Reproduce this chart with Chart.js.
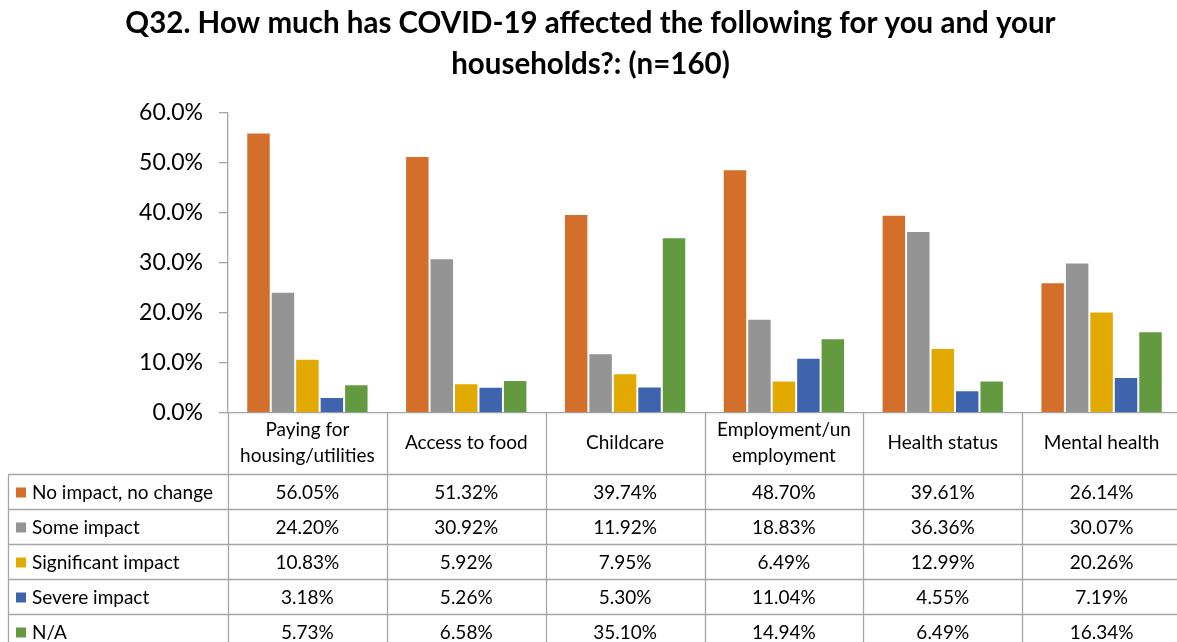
<!DOCTYPE html>
<html>
<head>
<meta charset="utf-8">
<script src="https://cdn.jsdelivr.net/npm/chart.js@4"></script>
<style>
  html, body { margin: 0; padding: 0; background: #fff; overflow: hidden; }
  #wrap { width: 1185px; height: 642px; }
</style>
</head>
<body>
<div id="wrap"><canvas id="covidChart"></canvas></div>
<script>
// =======================================================
// Données
// =======================================================

const categories = [
    ["Paying for", "housing/utilities"],
    ["Access to food"],
    ["Childcare"],
    ["Employment/un", "employment"],
    ["Health status"],
    ["Mental health"]
];

const seriesNames = ["No impact, no change", "Some impact", "Significant impact", "Severe impact", "N/A"];
const seriesColors = ["#D36E2B", "#949494", "#E2A900", "#3E64AE", "#639A3F"];

const noImpact    = [56.05, 51.32, 39.74, 48.70, 39.61, 26.14];
const someImpact  = [24.20, 30.92, 11.92, 18.83, 36.36, 30.07];
const significant = [10.83, 5.92, 7.95, 6.49, 12.99, 20.26];
const severe      = [3.18, 5.26, 5.30, 11.04, 4.55, 7.19];
const notApply    = [5.73, 6.58, 35.10, 14.94, 6.49, 16.34];

const seriesValues = [noImpact, someImpact, significant, severe, notApply];

const yTicks = [0, 10, 20, 30, 40, 50, 60];

const FONT = "Lato, 'Open Sans', sans-serif";


// =======================================================
// Tableau de données sous le graphique
// =======================================================

const dataTable = {
    id: "dataTable",
    afterDraw(chart) {
        const ctx = chart.ctx;
        const area = chart.chartArea;
        const x = chart.scales.x;
        const n = categories.length;
        const colW = (area.right - area.left) / n;
        const headerBottom = area.bottom + 61;
        const rowH = 35;
        const tableLeft = 8;
        const bottom = headerBottom + rowH * seriesNames.length;

        ctx.save();
        ctx.strokeStyle = "#a5a5a5";
        ctx.lineWidth = 1.3;

        // lignes verticales
        for (let i = 0; i <= n; i++) {
            const px = Math.round(area.left + i * colW) + 0.5;
            ctx.beginPath();
            ctx.moveTo(px, area.bottom);
            ctx.lineTo(px, bottom);
            ctx.stroke();
        }
        ctx.beginPath();
        ctx.moveTo(tableLeft + 0.5, headerBottom);
        ctx.lineTo(tableLeft + 0.5, bottom);
        ctx.stroke();

        // lignes horizontales
        for (let r = 0; r <= seriesNames.length; r++) {
            const py = Math.round(headerBottom + r * rowH) + 0.5;
            ctx.beginPath();
            ctx.moveTo(tableLeft, py);
            ctx.lineTo(area.right, py);
            ctx.stroke();
        }

        ctx.fillStyle = "#000";
        ctx.font = "19px " + FONT;
        ctx.textAlign = "center";
        ctx.textBaseline = "middle";

        // en-têtes
        categories.forEach((lines, i) => {
            const cx = x.getPixelForValue(i);
            const mid = area.bottom + 30;
            const lh = 26;
            lines.forEach((t, k) => {
                ctx.fillText(t, cx, mid + (k - (lines.length - 1) / 2) * lh);
            });
        });

        // lignes de séries
        seriesNames.forEach((name, r) => {
            const cy = headerBottom + r * rowH + rowH / 2 + 1;
            ctx.fillStyle = seriesColors[r];
            ctx.fillRect(16, cy - 5, 10, 10);
            ctx.fillStyle = "#000";
            ctx.textAlign = "left";
            ctx.fillText(name, 32, cy);
            ctx.textAlign = "center";
            seriesValues[r].forEach((v, i) => {
                ctx.fillText(v.toFixed(2) + "%", x.getPixelForValue(i), cy);
            });
        });

        ctx.restore();
    }
};


// =======================================================
// Graphique
// =======================================================

new Chart(document.getElementById("covidChart"), {

    type: "bar",

    data: {
        labels: categories,
        datasets: seriesNames.map((name, s) => ({
            label: name,
            data: seriesValues[s],
            backgroundColor: seriesColors[s],
            borderColor: "rgba(255,255,255,0.5)",
            borderWidth: 1,
            categoryPercentage: 0.77,
            barPercentage: 1
        }))
    },

    options: {
        responsive: true,
        maintainAspectRatio: false,
        animation: false,
        layout: {
            padding: { top: 0, bottom: 221, left: 0, right: 4 }
        },
        plugins: {
            legend: { display: false },
            tooltip: { enabled: false },
            title: {
                display: true,
                text: ["Q32. How much has COVID-19 affected the following for you and your", "households?: (n=160)"],
                color: "#000",
                font: { family: FONT, size: 29.5, weight: "bold", lineHeight: 1.4 },
                padding: { top: 3, bottom: 27 }
            }
        },
        scales: {
            x: {
                ticks: { display: false },
                grid: { display: false },
                border: { color: "#a5a5a5", width: 1.3 }
            },
            y: {
                min: 0,
                max: 60,
                afterFit(scale) { scale.width = 228; },
                afterBuildTicks(scale) { scale.ticks = yTicks.map(v => ({ value: v })); },
                ticks: {
                    color: "#000",
                    padding: 16,
                    font: { family: FONT, size: 23 },
                    callback: v => v.toFixed(1) + "%"
                },
                grid: {
                    drawOnChartArea: false,
                    drawTicks: true,
                    tickLength: 9,
                    color: "#a5a5a5",
                    lineWidth: 1.3
                },
                border: { color: "#a5a5a5", width: 1.3 }
            }
        }
    },

    plugins: [dataTable]

});
</script>
</body>
</html>
